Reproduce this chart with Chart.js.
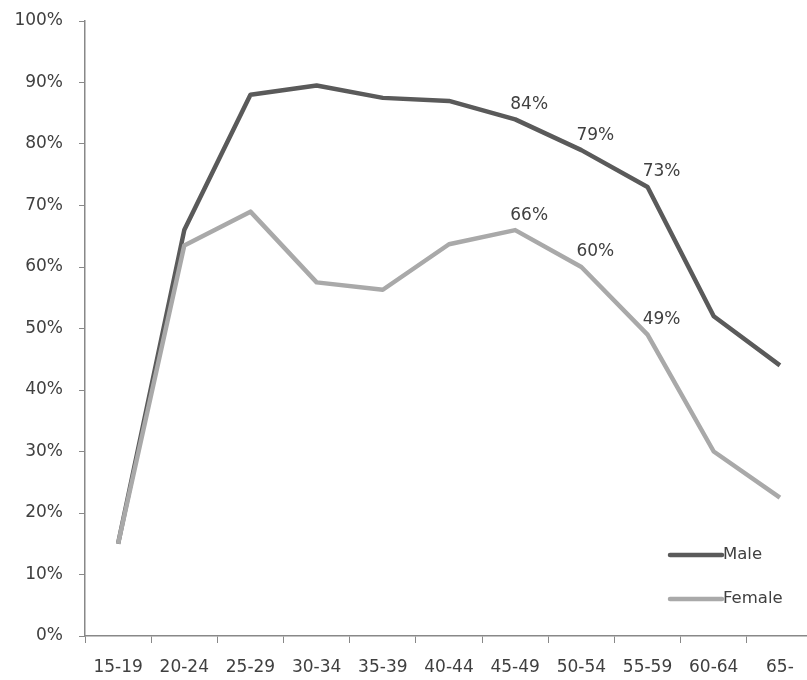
<!DOCTYPE html>
<html>
<head>
<meta charset="utf-8">
<script src="https://cdn.jsdelivr.net/npm/chart.js@4"></script>
<style>
  html, body { margin: 0; padding: 0; background: #fff; overflow: hidden; }
  #wrap { width: 830px; height: 680px; }
</style>
</head>
<body>
<div id="wrap"><canvas id="chart" width="830" height="680"></canvas></div>
<script>
// Employment rate by age group
const ageGroups = ['15-19', '20-24', '25-29', '30-34', '35-39', '40-44', '45-49', '50-54', '55-59', '60-64', '65-'];
const maleRate = [15, 66, 88, 89.5, 87.5, 87, 84, 79, 73, 52, 44];
const femaleRate = [15, 63.5, 69, 57.5, 56.3, 63.7, 66, 60, 49, 30, 22.5];
// Points that carry a value label
const maleLabelled = ['45-49', '50-54', '55-59'];
const femaleLabelled = ['45-49', '50-54', '55-59'];
const yTicks = [0, 10, 20, 30, 40, 50, 60, 70, 80, 90, 100];

const FONT = 'DejaVu Sans';
const TEXT = '#404040';
const AXIS = '#888888';

// Value labels above selected points
const valueLabels = {
  id: 'valueLabels',
  afterDatasetsDraw(chart) {
    const ctx = chart.ctx;
    const sets = [maleLabelled, femaleLabelled];
    ctx.save();
    ctx.font = '17px "' + FONT + '"';
    ctx.fillStyle = TEXT;
    ctx.textAlign = 'center';
    ctx.textBaseline = 'middle';
    chart.data.datasets.forEach((ds, i) => {
      const meta = chart.getDatasetMeta(i);
      ageGroups.forEach((g, j) => {
        if (!sets[i].includes(g)) return;
        const pt = meta.data[j];
        ctx.fillText(Math.round(ds.data[j]) + '%', pt.x + 14, pt.y - 15);
      });
    });
    ctx.restore();
  }
};

// Line-sample legend inside the plot, lower right
const sampleLegend = {
  id: 'sampleLegend',
  afterDraw(chart) {
    const ctx = chart.ctx;
    const x0 = 670, x1 = 722, rows = [555, 599];
    ctx.save();
    ctx.font = '16.5px "' + FONT + '"';
    ctx.textBaseline = 'middle';
    ctx.textAlign = 'left';
    chart.data.datasets.forEach((ds, i) => {
      const y = rows[i];
      ctx.strokeStyle = ds.borderColor;
      ctx.lineWidth = ds.borderWidth;
      ctx.lineCap = 'round';
      ctx.beginPath();
      ctx.moveTo(x0, y);
      ctx.lineTo(x1, y);
      ctx.stroke();
      ctx.fillStyle = TEXT;
      ctx.fillText(ds.label, x1 + 1, y);
    });
    ctx.restore();
  }
};

new Chart(document.getElementById('chart'), {
  type: 'line',
  data: {
    labels: ageGroups,
    datasets: [
      { label: 'Male', data: maleRate, borderColor: '#5a5a5a', borderWidth: 4.5, order: 1,
        pointRadius: 0, tension: 0, fill: false, borderJoinStyle: 'round' },
      { label: 'Female', data: femaleRate, borderColor: '#a9a9a9', borderWidth: 4.5, order: 0,
        pointRadius: 0, tension: 0, fill: false, borderJoinStyle: 'round' }
    ]
  },
  options: {
    responsive: false,
    animation: false,
    layout: { padding: { left: 0, top: 21, right: 17, bottom: 0 } },
    plugins: { legend: { display: false }, tooltip: { enabled: false } },
    scales: {
      x: {
        offset: true,
        grid: { offset: true, drawOnChartArea: false, drawTicks: true, tickLength: 7, color: AXIS },
        border: { color: AXIS, width: 1.5 },
        ticks: { font: { family: FONT, size: 17 }, color: TEXT, padding: 14, maxRotation: 0, autoSkip: false },
        afterFit(scale) { scale.height = 44; scale.paddingLeft = 0; scale.paddingRight = 0; }
      },
      y: {
        min: 0, max: 100,
        afterBuildTicks(scale) { scale.ticks = yTicks.map(v => ({ value: v })); },
        grid: { drawOnChartArea: false, drawTicks: true, tickLength: 6, color: AXIS },
        border: { color: AXIS, width: 1.5 },
        ticks: { font: { family: FONT, size: 17 }, color: TEXT, padding: 16, callback: v => v + '%' },
        afterFit(scale) { scale.width = 85; scale.paddingTop = 0; scale.paddingBottom = 0; }
      }
    }
  },
  plugins: [valueLabels, sampleLegend]
});
</script>
</body>
</html>
